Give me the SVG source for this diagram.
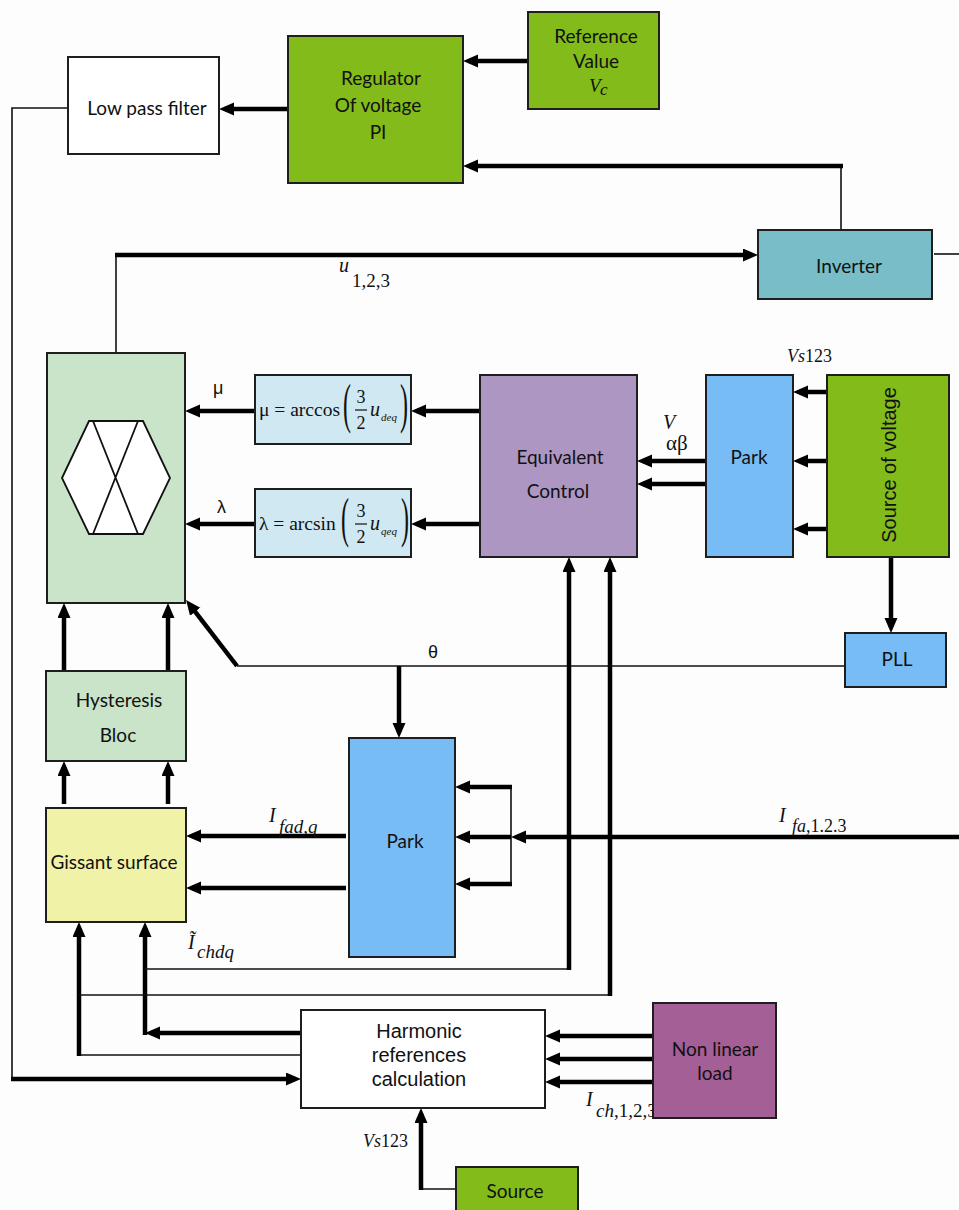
<svg xmlns="http://www.w3.org/2000/svg" width="959" height="1210" viewBox="0 0 959 1210">
<style>
.box{stroke:#1e1e1e;stroke-width:2}
.thick{fill:none;stroke:#000;stroke-width:4.5;stroke-linecap:butt}
.thin{fill:none;stroke:#111;stroke-width:1.6}
.lab{font-family:Lato,"Open Sans",sans-serif;font-size:19px;fill:#111;text-anchor:middle}
.ar{font-family:"Liberation Sans",Arial,sans-serif;fill:#111}
.m{font-family:"Liberation Serif","Times New Roman",serif;fill:#111}
.i{font-style:italic}
</style>
<defs>
<marker id="ah" markerUnits="userSpaceOnUse" markerWidth="16" markerHeight="14" viewBox="0 0 16 14" refX="9" refY="6.5" orient="auto">
<path d="M0,0 L15,6.5 L0,13 z" fill="#000"/>
</marker>
</defs>
<rect width="959" height="1210" fill="#fdfdfd"/>

<g id="connectors">
<path class="thick" d="M528,61 H469" marker-end="url(#ah)"/>
<path class="thin" d="M841,230 V166"/>
<path class="thick" d="M843,166 H469" marker-end="url(#ah)"/>
<path class="thick" d="M288,109 H225" marker-end="url(#ah)"/>
<path class="thin" d="M68,108 H12 V1079"/>
<path class="thick" d="M11,1079 H295" marker-end="url(#ah)"/>
<path class="thin" d="M934,254 H959"/>
<path class="thin" d="M116,353 V255"/>
<path class="thick" d="M115,255 H752" marker-end="url(#ah)"/>
<path class="thick" d="M255,411 H191" marker-end="url(#ah)"/>
<path class="thick" d="M255,524 H191" marker-end="url(#ah)"/>
<path class="thick" d="M480,411 H417" marker-end="url(#ah)"/>
<path class="thick" d="M480,524 H417" marker-end="url(#ah)"/>
<path class="thick" d="M706,461 H643" marker-end="url(#ah)"/>
<path class="thick" d="M706,484 H643" marker-end="url(#ah)"/>
<path class="thick" d="M827,392 H799" marker-end="url(#ah)"/>
<path class="thick" d="M827,461 H799" marker-end="url(#ah)"/>
<path class="thick" d="M827,529 H799" marker-end="url(#ah)"/>
<path class="thick" d="M891,548 V627" marker-end="url(#ah)"/>
<path class="thin" d="M845,666 H237"/>
<path class="thick" d="M237,666 L189.7,604.7" marker-end="url(#ah)"/>
<path class="thick" d="M399,666 V732" marker-end="url(#ah)"/>
<path class="thick" d="M64,671 V609" marker-end="url(#ah)"/>
<path class="thick" d="M168,671 V609" marker-end="url(#ah)"/>
<path class="thick" d="M64,804 V767" marker-end="url(#ah)"/>
<path class="thick" d="M168,804 V767" marker-end="url(#ah)"/>
<path class="thick" d="M346,836 H192" marker-end="url(#ah)"/>
<path class="thick" d="M346,888 H192" marker-end="url(#ah)"/>
<path class="thick" d="M959,837 H517" marker-end="url(#ah)"/>
<path class="thin" d="M511,787 V884"/>
<path class="thick" d="M512,787 H461" marker-end="url(#ah)"/>
<path class="thick" d="M511,837 H461" marker-end="url(#ah)"/>
<path class="thick" d="M512,884 H461" marker-end="url(#ah)"/>
<path class="thick" d="M301,1033 H151" marker-end="url(#ah)"/>
<path class="thick" d="M145,1035 V928" marker-end="url(#ah)"/>
<path class="thin" d="M301,1055 H79"/>
<path class="thick" d="M79,1056 V928" marker-end="url(#ah)"/>
<path class="thin" d="M145,969 H569"/>
<path class="thick" d="M569,970 V563" marker-end="url(#ah)"/>
<path class="thin" d="M79,995 H610"/>
<path class="thick" d="M610,996 V563" marker-end="url(#ah)"/>
<path class="thick" d="M653,1036 H551" marker-end="url(#ah)"/>
<path class="thick" d="M653,1059 H551" marker-end="url(#ah)"/>
<path class="thick" d="M653,1082 H551" marker-end="url(#ah)"/>
<path class="thin" d="M456,1189 H421"/>
<path class="thick" d="M421,1190 V1114" marker-end="url(#ah)"/>
</g>

<g id="connector-labels">
<text class="m i" x="339" y="272" font-size="20">u</text>
<text class="m" x="352" y="287" font-size="19">1,2,3</text>
<text class="ar" x="213" y="394" font-size="18">μ</text>
<text class="ar" x="217" y="513" font-size="18">λ</text>
<text class="m i" x="663" y="429" font-size="20">V</text>
<text class="m" x="666" y="450" font-size="21">αβ</text>
<text class="m" x="787" y="362" font-size="18"><tspan font-style="italic">Vs</tspan>123</text>
<text class="ar" x="433" y="658" font-size="18" text-anchor="middle">θ</text>
<text class="m i" x="269" y="822" font-size="20">I</text>
<text class="m i" x="279" y="833" font-size="19">fad,q</text>
<text class="m i" x="779" y="822" font-size="20">I</text>
<text class="m" x="792" y="832" font-size="18"><tspan font-style="italic">fa</tspan>,1.2.3</text>
<text class="m i" x="188" y="949" font-size="20">Ĩ</text>
<text class="m i" x="197" y="958" font-size="19">chdq</text>
<text class="m i" x="586" y="1106" font-size="20">I</text>
<text class="m" x="596" y="1117" font-size="19"><tspan font-style="italic">ch</tspan>,1,2,3</text>
<text class="m" x="363" y="1147" font-size="18"><tspan font-style="italic">Vs</tspan>123</text>
</g>

<g id="lpf">
<rect class="box" x="68" y="57" width="151" height="97" fill="#ffffff"/>
<text class="lab" x="147" y="115" font-size="21">Low pass filter</text>
</g>
<g id="regulator">
<rect class="box" x="288" y="36" width="175" height="147" fill="#82bb1a"/>
<text class="lab" x="381" y="85">Regulator</text>
<text class="lab" x="378" y="112">Of voltage</text>
<text class="lab" x="378" y="139">PI</text>
</g>
<g id="reference">
<rect class="box" x="528" y="12" width="131" height="97" fill="#82bb1a"/>
<text class="lab" x="596" y="43">Reference</text>
<text class="lab" x="596" y="68">Value</text>
<text class="m i" x="589" y="92" font-size="19">V</text>
<text class="m i" x="600" y="95" font-size="17">c</text>
</g>
<g id="inverter">
<rect class="box" x="758" y="230" width="174" height="69" fill="#78bdc8"/>
<text class="lab" x="849" y="273">Inverter</text>
</g>
<g id="svm">
<rect class="box" x="47" y="353" width="138" height="250" fill="#cae4c9"/>
<polygon points="62,478 89,421 143,421 170,478 143,534 89,534" fill="#ffffff" stroke="#111" stroke-width="1.8"/>
<path d="M93,421 L138,534 M138,421 L93,534" stroke="#111" stroke-width="1.8" fill="none"/>
</g>
<g id="mu">
<rect class="box" x="255" y="375" width="156" height="69" fill="#d0e8f2"/>
<text class="m" x="259" y="416" font-size="19.5">μ = arccos</text>
<text class="m" font-size="24" transform="translate(343,422) scale(1,2.3)">(</text>
<text class="m" x="361" y="403" font-size="18" text-anchor="middle">3</text>
<path d="M355,410 H367" stroke="#111" stroke-width="1.2"/>
<text class="m" x="361" y="429" font-size="18" text-anchor="middle">2</text>
<text class="m i" x="370" y="416" font-size="20">u</text>
<text class="m i" x="381" y="421" font-size="11">deq</text>
<text class="m" font-size="24" transform="translate(400,422) scale(1,2.3)">)</text>
</g>
<g id="lambda">
<rect class="box" x="255" y="489" width="156" height="68" fill="#d0e8f2"/>
<text class="m" x="259" y="530" font-size="19.5">λ = arcsin</text>
<text class="m" font-size="24" transform="translate(341,536) scale(1,2.3)">(</text>
<text class="m" x="361" y="517" font-size="18" text-anchor="middle">3</text>
<path d="M355,524 H367" stroke="#111" stroke-width="1.2"/>
<text class="m" x="361" y="543" font-size="18" text-anchor="middle">2</text>
<text class="m i" x="370" y="530" font-size="20">u</text>
<text class="m i" x="381" y="535" font-size="11">qeq</text>
<text class="m" font-size="24" transform="translate(401,536) scale(1,2.3)">)</text>
</g>
<g id="equivalent-control">
<rect class="box" x="480" y="375" width="157" height="182" fill="#ae96c3"/>
<text class="lab" x="560" y="464">Equivalent</text>
<text class="lab" x="558" y="498">Control</text>
</g>
<g id="park-top">
<rect class="box" x="706" y="375" width="87" height="182" fill="#78bcf5"/>
<text class="lab" x="749" y="464">Park</text>
</g>
<g id="source-voltage">
<rect class="box" x="827" y="375" width="122" height="182" fill="#82bb1a"/>
<text class="ar" font-size="20" text-anchor="middle" transform="translate(896,465) rotate(-90)">Source of voltage</text>
</g>
<g id="pll">
<rect class="box" x="845" y="633" width="101" height="54" fill="#78bcf5"/>
<text class="lab" x="897" y="666">PLL</text>
</g>
<g id="hysteresis">
<rect class="box" x="46" y="671" width="140" height="90" fill="#c9e4c8"/>
<text class="lab" x="119" y="707">Hysteresis</text>
<text class="lab" x="118" y="742">Bloc</text>
</g>
<g id="gissant">
<rect class="box" x="46" y="808" width="140" height="114" fill="#f0f2a8"/>
<text class="lab" x="114" y="869">Gissant surface</text>
</g>
<g id="park-bottom">
<rect class="box" x="349" y="738" width="106" height="219" fill="#78bcf5"/>
<text class="lab" x="405" y="848">Park</text>
</g>
<g id="harmonic">
<rect class="box" x="301" y="1010" width="244" height="98" fill="#ffffff"/>
<text class="ar" x="419" y="1038" font-size="20" text-anchor="middle">Harmonic</text>
<text class="ar" x="419" y="1062" font-size="20" text-anchor="middle">references</text>
<text class="ar" x="419" y="1086" font-size="20" text-anchor="middle">calculation</text>
</g>
<g id="nonlinear-load">
<rect class="box" x="653" y="1003" width="123" height="115" fill="#a45f96"/>
<text class="lab" x="715" y="1056">Non linear</text>
<text class="lab" x="715" y="1080">load</text>
</g>
<g id="source">
<rect class="box" x="456" y="1167" width="122" height="50" fill="#82bb1a"/>
<text class="lab" x="515" y="1198">Source</text>
</g>
</svg>
